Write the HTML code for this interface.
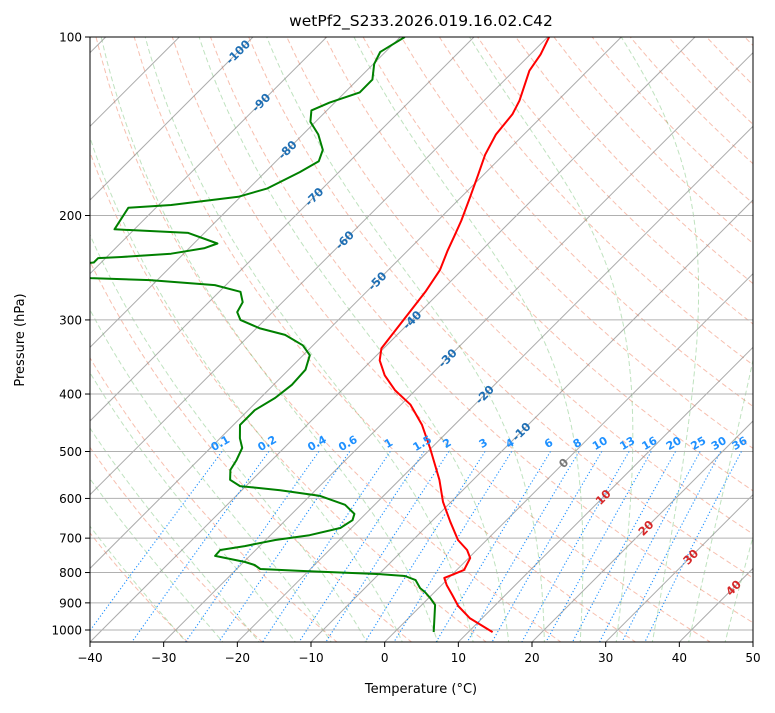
<!DOCTYPE html>
<html><head><meta charset="utf-8"><style>
body{margin:0;background:#fff;}
svg text{font-family:"DejaVu Sans","Liberation Sans",sans-serif;}
</style></head><body>
<svg id="c" width="775" height="708" xmlns="http://www.w3.org/2000/svg"></svg>
<script>
const tempP=[1008,955,911,873,840,817,808,792,756,733,705,657,608,558,521,493,451,417,394,372,351,335,318,291,269,247,229,216,204,187,171,158,146,135,128,114,107,100];
const tempT=[13.3,8.3,5.1,2.8,0.7,-0.6,0.0,1.0,0.2,-1.3,-3.9,-7.4,-11.1,-14.6,-17.7,-20.2,-24.4,-28.7,-32.8,-36.2,-38.9,-40.3,-40.7,-41.4,-42.0,-43.0,-44.6,-45.7,-46.8,-48.7,-50.7,-52.5,-53.8,-54.3,-55.2,-57.9,-58.6,-59.8];
const dewP=[1008,907,883,863,850,824,811,805,795,789,777,768,750,733,722,705,692,673,653,637,615,594,581,572,558,537,517,493,475,451,426,406,386,364,344,331,318,310,300,291,280,269,262,257,255,250,244,240,236,235,232,227,223,214,211,194,192,186,180,169,162,155,146,139,133,129,124,118,111,106,100];
const dewT=[5.3,1.8,0.2,-1.3,-2.5,-4.2,-6.2,-9.9,-21.1,-26.8,-28.1,-29.8,-34.7,-34.8,-32.0,-28.7,-24.7,-21.5,-20.9,-21.5,-24.0,-28.6,-34.8,-40.8,-43.0,-44.3,-44.8,-45.7,-47.3,-49.1,-49.1,-48.0,-47.5,-47.7,-49.1,-51.4,-55.2,-59.5,-63.3,-64.8,-65.4,-67.1,-71.5,-81.0,-89.3,-96,-96,-91.0,-91.0,-88.0,-81.7,-77.9,-76.8,-82.2,-92.7,-93.75,-88.3,-80.3,-77.5,-75.3,-74.2,-75.2,-77.9,-80.7,-82.1,-80.7,-78.0,-78.0,-79.9,-80.7,-79.4];
const xTicks=[-40,-30,-20,-10,0,10,20,30,40,50];
const pTicks=[100,200,300,400,500,600,700,800,900,1000];
const mixRatios=[0.1,0.2,0.4,0.6,1,1.5,2,3,4,6,8,10,13,16,20,25,30,36];
const isoLabels=[-100,-90,-80,-70,-60,-50,-40,-30,-20,-10,0,10,20,30,40];
const isoLabelP=[106,129,155,186,220,258,300,348,401,463,523,597,673,753,849];

const L=90,R=753,T=37,B=642,ppd=(R-L)/90,dec=593;
const svg=document.getElementById('c');const NS='http://www.w3.org/2000/svg';
function yP(p){return T+Math.log10(p/100)*dec;}
function xT(t,p){return L+(t+40)*ppd+(B-yP(p));}
function mk(tag,at,par){const e=document.createElementNS(NS,tag);for(const k in at)e.setAttribute(k,at[k]);(par||svg).appendChild(e);return e;}
const defs=mk('defs',{});const cp=mk('clipPath',{id:'clip'},defs);mk('rect',{x:L,y:T,width:R-L,height:B-T},cp);
const g=mk('g',{'clip-path':'url(#clip)'});

function poly(pts,st,name){const e=mk('polyline',Object.assign({points:pts.map(q=>q[0].toFixed(1)+','+q[1].toFixed(1)).join(' '),fill:'none'},st),g);return e;}
const plist=[];for(let p=1050;p>=100;p-=10)plist.push(p);
for(let t0=-30;t0<=200;t0+=10){const th=t0+273.15;poly(plist.map(p=>[xT(th*Math.pow(p/1000,0.2857)-273.15,p),yP(p)]),{stroke:'#f08060','stroke-opacity':0.5,'stroke-width':1,'stroke-dasharray':'5,3'},'dry-adiabat');}
function moist(t0){const Rd=287.04,Cp=1005.7,Lv=2.501e6,eps=0.622;function d(p,Tk){const tc=Tk-273.15;const es=6.112*Math.exp(17.67*tc/(tc+243.5));const rs=eps*es/(p-es);return (Rd*Tk+Lv*rs)/(Cp+Lv*Lv*rs*eps/(Rd*Tk*Tk))/p;}
let pts=[];let Tk=t0+273.15;for(let p=1000;p>=100;p-=5){pts.push([xT(Tk-273.15,p),yP(p)]);Tk-=d(p,Tk)*5;}
Tk=t0+273.15;const lo=[];for(let p=1000;p<=1060;p+=5){lo.unshift([xT(Tk-273.15,p),yP(p)]);Tk+=d(p,Tk)*5;}return lo.concat(pts);}
for(let t0=-30;t0<=45;t0+=5)poly(moist(t0),{stroke:'#2ca02c','stroke-opacity':0.3,'stroke-width':1,'stroke-dasharray':'5,3'},'moist-adiabat');
for(let t=-150;t<=50;t+=10)poly([[xT(t,1050),yP(1050)],[xT(t,100),yP(100)]],{stroke:'#888','stroke-opacity':0.7,'stroke-width':1},'isotherm');
pTicks.forEach(p=>poly([[L,yP(p)],[R,yP(p)]],{stroke:'#b0b0b0','stroke-width':1},'pressure-gridline'));
function tdw(w,p){const e=p*w/(622+w);const l=Math.log(e/6.112);return 243.5*l/(17.67-l);}
mixRatios.forEach(w=>{const pts=[];for(let p=500;p<=1060;p+=10)pts.push([xT(tdw(w,p),p),yP(p)]);poly(pts,{stroke:'#1e90ff','stroke-width':1.1,'stroke-dasharray':'1.2,2.2'},'mixing-ratio-line');});
poly(tempT.map((t,i)=>[xT(t,tempP[i]),yP(tempP[i])]),{stroke:'#ff0000','stroke-width':2,'stroke-linejoin':'round'},'temperature-profile');
poly(dewT.map((t,i)=>[xT(t,dewP[i]),yP(dewP[i])]),{stroke:'#008000','stroke-width':2,'stroke-linejoin':'round'},'dewpoint-profile');
mixRatios.forEach(w=>{const x=xT(tdw(w,500),500),y=yP(500)-5;const e=mk('text',{x:x,y:y,'font-size':11,'font-weight':'bold',fill:'#1e90ff','text-anchor':'middle',transform:'rotate(-30 '+x+' '+y+')'});e.textContent=String(w);

});
isoLabels.forEach((t,i)=>{const p=isoLabelP[i];const x=xT(t,p),y=yP(p);const col=t<0?'#1f6fb4':(t===0?'#777':'#d62728');const e=mk('text',{x:x,y:y+4,'font-size':11.5,'font-weight':'bold',fill:col,'text-anchor':'middle',transform:'rotate(-45 '+x+' '+y+')'});e.textContent=String(t);

});
const fr=mk('rect',{x:L,y:T,width:R-L,height:B-T,fill:'none',stroke:'#000','stroke-width':1});

xTicks.forEach(t=>{const x=L+(t+40)*ppd;mk('line',{x1:x,y1:B,x2:x,y2:B+5,stroke:'#000'});const e=mk('text',{x:x,y:B+20,'font-size':12,'text-anchor':'middle'});e.textContent=t<0?'\u2212'+(-t):String(t);

});
pTicks.forEach(p=>{const y=yP(p);mk('line',{x1:L-5,y1:y,x2:L,y2:y,stroke:'#000'});const e=mk('text',{x:L-8,y:y+4.5,'font-size':12,'text-anchor':'end'});e.textContent=String(p);

});
let e=mk('text',{x:421,y:693,'font-size':13,'text-anchor':'middle'});e.textContent='Temperature (\u00b0C)';
e=mk('text',{x:24,y:340,'font-size':13,'text-anchor':'middle',transform:'rotate(-90 24 340)'});e.textContent='Pressure (hPa)';
e=mk('text',{x:421,y:26,'font-size':15.5,'text-anchor':'middle'});e.textContent='wetPf2_S233.2026.019.16.02.C42';
</script>
</body></html>
